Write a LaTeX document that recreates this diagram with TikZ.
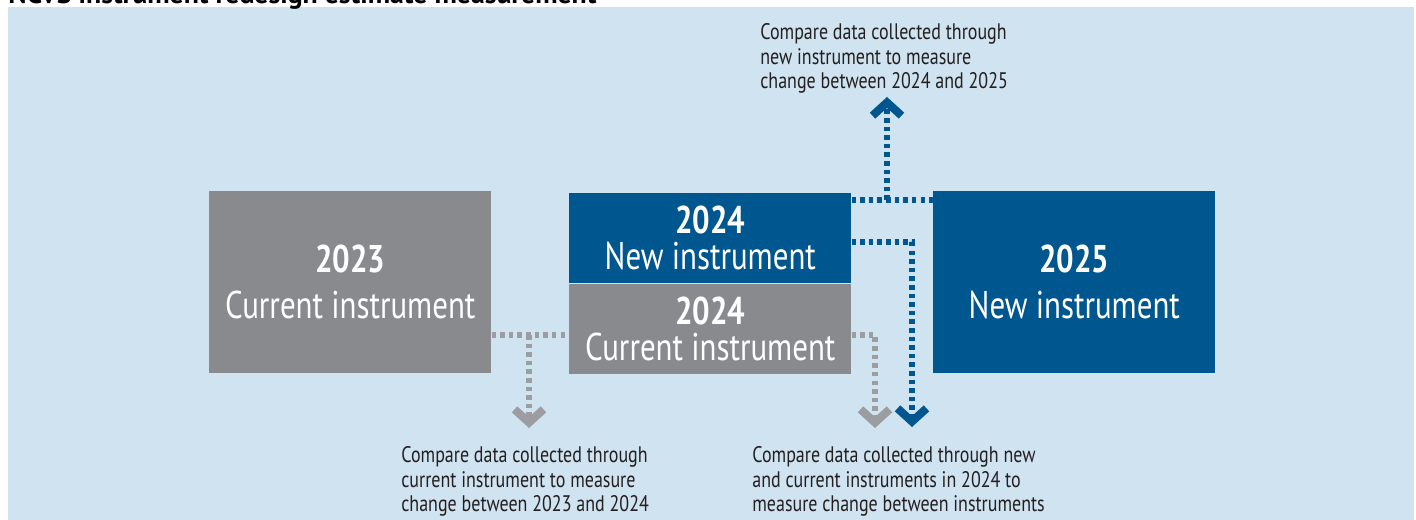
\documentclass[tikz,border=0pt]{standalone}
\usepackage{fontspec}
\setmainfont{PT Sans}[FakeStretch=0.8]
\newfontfamily\titlefont{PT Sans}
\usepackage{tikz}
\usetikzlibrary{arrows.meta}
\usetikzlibrary{positioning}
\definecolor{bgblue}{HTML}{D0E3F0}
\definecolor{boxgray}{HTML}{898A8E}
\definecolor{boxblue}{HTML}{00578F}
\definecolor{dotgray}{HTML}{9C9DA0}
\definecolor{notetext}{HTML}{231F20}

\begin{document}
\begin{tikzpicture}[x=0.02cm, y=-0.02cm,
	yearbox/.style={minimum width=5.64cm, inner sep=0pt, text=white, align=center},
	tallbox/.style={yearbox, minimum height=3.64cm, font=\fontsize{22}{26.2}\selectfont},
	halfbox/.style={yearbox, minimum height=1.8cm, font=\fontsize{22}{20.5}\selectfont},
	note/.style={anchor=north west, inner sep=0pt, align=left, text=notetext, font=\fontsize{12.8}{14.1}\selectfont},
	dotline/.style={line width=3.2pt, dash pattern=on 2.6pt off 2.3pt},
	chev/.tip={Straight Barb[length=7.5pt, width=16.5pt, line width=4.6pt]}]
	\useasboundingbox (0,0) rectangle (1416,520);
	\fill[bgblue] (8,7) rectangle (1414,520);
	
	\node[anchor=base west, inner sep=0pt, font=\titlefont\bfseries\fontsize{15.8}{18}\selectfont]
		(title) at (8,4) {NCVS instrument redesign estimate measurement};
	
	% years
	\node[tallbox, fill=boxgray, anchor=north west]
		(y23) at (209,191) {\textbf{2023}\\Current instrument};
	\node[halfbox, fill=boxblue, anchor=north west]
		(y24new) at (569,193) {\textbf{2024}\\New instrument};
	\node[halfbox, fill=boxgray, below=0pt of y24new]
		(y24cur) {\textbf{2024}\\Current instrument};
	\node[tallbox, fill=boxblue, anchor=north west]
		(y25) at (933,191) {\textbf{2025}\\New instrument};
	
	% comparisons
	\node[note] (note23) at (401,446)
		{Compare data collected through\\current instrument to measure\\change between 2023 and 2024};
	\node[note] (note24) at (752,446)
		{Compare data collected through new\\and current instruments in 2024 to\\measure change between instruments};
	\node[note] (note25) at (760,23)
		{Compare data collected through\\new instrument to measure\\change between 2024 and 2025};
	
	\coordinate (split23) at (529,335);
	\coordinate (tip23) at (529,428);
	\coordinate (tip24cur) at (875,428);
	\coordinate (bend24) at (912,242);
	\coordinate (tip24new) at (912,427);
	\coordinate (join25) at (887,200);
	\coordinate (tip25) at (887,97);
	
	\draw[dotline, color=dotgray]
		(y23.east |- split23) -- (y24cur.west |- split23);
	\draw[dotline, color=dotgray, -chev]
		(split23) -- (tip23);
	\draw[dotline, color=dotgray, -chev]
		(y24cur.east |- split23) -| (tip24cur);
	
	\draw[dotline, color=boxblue, -chev]
		(y24new.east |- bend24) -| (tip24new);
	\draw[dotline, color=boxblue]
		(y24new.east |- join25) -- (y25.west |- join25);
	\draw[dotline, color=boxblue, -chev]
		(join25) -- (tip25);
\end{tikzpicture}
\end{document}
